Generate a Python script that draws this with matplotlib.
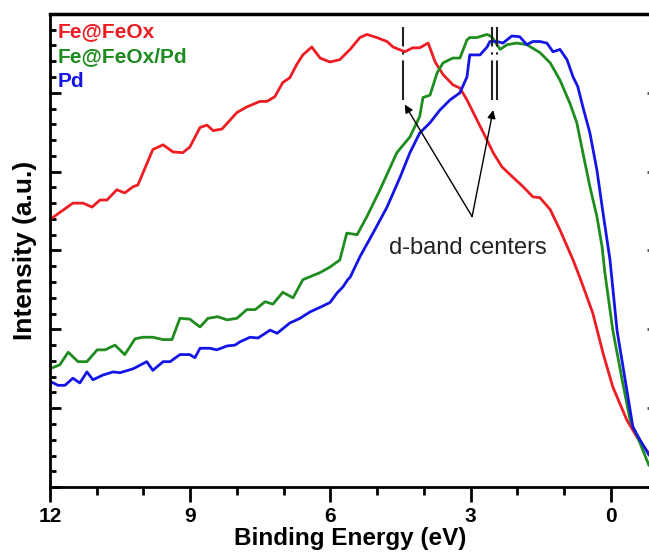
import numpy as np
import matplotlib.pyplot as plt
from matplotlib.ticker import MultipleLocator, NullLocator

plt.rcParams['font.family'] = ['Liberation Sans', 'DejaVu Sans']

# binding energy (eV) and intensity (a.u.)
fe_x = [12.00, 11.96, 11.51, 11.29, 11.10, 10.93, 10.78, 10.57, 10.40, 10.22, 10.12,
        9.80, 9.58, 9.37, 9.16, 9.01, 8.79, 8.64, 8.51, 8.32, 8.00, 7.79, 7.51, 7.36,
        7.19, 7.02, 6.87, 6.72, 6.59, 6.40, 6.22, 6.01, 5.80, 5.58, 5.37, 5.22, 5.01,
        4.79, 4.66, 4.41, 4.24, 4.09, 3.91, 3.76, 3.59, 3.38, 3.23, 3.08, 2.87, 2.65,
        2.52, 2.33, 2.10, 1.88, 1.67, 1.52, 1.30, 1.09, 0.81, 0.66, 0.39, 0.17, -0.04,
        -0.34, -0.56, -0.81]
fe_y = [3.41, 3.41, 3.60, 3.60, 3.55, 3.64, 3.64, 3.77, 3.73, 3.81, 3.83,
        4.28, 4.34, 4.25, 4.24, 4.31, 4.56, 4.59, 4.52, 4.54, 4.75, 4.82, 4.89, 4.89,
        4.95, 5.13, 5.19, 5.36, 5.48, 5.58, 5.44, 5.39, 5.42, 5.55, 5.70, 5.74, 5.70,
        5.65, 5.58, 5.52, 5.57, 5.57, 5.63, 5.39, 5.23, 5.10, 5.06, 4.91, 4.66, 4.40,
        4.24, 4.06, 3.93, 3.81, 3.68, 3.67, 3.52, 3.26, 2.88, 2.65, 2.21, 1.70, 1.27,
        0.85, 0.63, 0.43]

fepd_x = [12.00, 11.96, 11.79, 11.61, 11.40, 11.21, 10.99, 10.82, 10.61, 10.40, 10.18,
          10.01, 9.80, 9.58, 9.39, 9.22, 9.01, 8.79, 8.62, 8.41, 8.21, 8.00, 7.79, 7.61,
          7.40, 7.23, 7.02, 6.80, 6.59, 6.22, 6.01, 5.80, 5.65, 5.43, 5.22, 4.94, 4.58,
          4.30, 4.09, 4.02, 3.87, 3.72, 3.59, 3.38, 3.23, 3.08, 3.02, 2.87, 2.65, 2.55,
          2.37, 2.22, 2.01, 1.80, 1.52, 1.30, 1.09, 0.88, 0.73, 0.60, 0.45, 0.30, 0.19,
          0.13, -0.04, -0.24, -0.41, -0.62, -0.81]
fepd_y = [1.49, 1.51, 1.55, 1.71, 1.59, 1.59, 1.74, 1.74, 1.80, 1.68, 1.88,
          1.90, 1.90, 1.87, 1.87, 2.14, 2.13, 2.03, 2.14, 2.16, 2.12, 2.14, 2.25, 2.25,
          2.35, 2.32, 2.47, 2.40, 2.63, 2.72, 2.79, 2.88, 3.22, 3.20, 3.43, 3.77, 4.24,
          4.44, 4.70, 4.94, 4.97, 5.25, 5.38, 5.44, 5.44, 5.67, 5.70, 5.70, 5.74, 5.71,
          5.55, 5.61, 5.63, 5.61, 5.51, 5.38, 5.16, 4.87, 4.62, 4.24, 3.81, 3.43, 3.05,
          2.72, 1.99, 1.36, 0.85, 0.56, 0.28]

pd_x = [12.00, 11.96, 11.83, 11.68, 11.51, 11.36, 11.21, 11.08, 10.87, 10.65, 10.50,
        10.22, 9.93, 9.80, 9.58, 9.43, 9.22, 9.01, 8.90, 8.79, 8.58, 8.43, 8.21, 8.04,
        7.94, 7.72, 7.55, 7.29, 7.14, 6.87, 6.65, 6.44, 6.22, 6.01, 5.86, 5.73, 5.63,
        5.58, 5.37, 5.09, 4.79, 4.51, 4.30, 4.09, 3.87, 3.66, 3.44, 3.23, 3.08, 3.02,
        2.80, 2.65, 2.59, 2.44, 2.31, 2.12, 1.95, 1.80, 1.67, 1.52, 1.37, 1.24, 1.09,
        0.94, 0.81, 0.71, 0.60, 0.45, 0.30, 0.17, 0.02, -0.13, -0.34, -0.47, -0.62, -0.81]
pd_y = [1.31, 1.33, 1.29, 1.29, 1.38, 1.32, 1.46, 1.36, 1.42, 1.46, 1.45,
        1.50, 1.59, 1.48, 1.59, 1.59, 1.68, 1.68, 1.64, 1.76, 1.76, 1.74, 1.79, 1.80,
        1.84, 1.90, 1.89, 1.99, 1.95, 2.08, 2.14, 2.22, 2.28, 2.34, 2.46, 2.54, 2.63,
        2.66, 2.92, 3.22, 3.55, 3.93, 4.24, 4.49, 4.62, 4.78, 4.91, 5.00, 5.20, 5.48,
        5.48, 5.58, 5.65, 5.65, 5.63, 5.72, 5.71, 5.61, 5.65, 5.65, 5.63, 5.52, 5.55,
        5.42, 5.20, 5.08, 4.82, 4.49, 4.02, 3.48, 2.88, 1.99, 1.23, 0.76, 0.60, 0.41]

# d-band centre markers (eV)
dband_fe = 4.45
dband_fepd = 2.55
dband_pd = 2.44

labels = ['Fe@FeOx', 'Fe@FeOx/Pd', 'Pd']
colors = ['#ee1d23', '#1e8c1e', '#1414e6']

fig = plt.figure(figsize=(6.49, 5.56), dpi=100)
ax = fig.add_axes([0.077, 0.124, 0.926, 0.851])

ax.plot(fe_x, fe_y, color=colors[0], lw=2)
ax.plot(fepd_x, fepd_y, color=colors[1], lw=2)
ax.plot(pd_x, pd_y, color=colors[2], lw=2)

for e in [dband_fe, dband_fepd, dband_pd]:
    ax.plot([e, e], [4.91, 5.84], color='#222222', lw=1.5,
            linestyle=(0, (19, 2.8, 1.1, 2.8)))

# arrows + label
tail = (2.97, 3.43)
for head in [(4.41, 4.85), (2.52, 4.78)]:
    ax.annotate('', xy=head, xytext=tail,
                arrowprops=dict(arrowstyle='-|>', color='black', lw=1.0,
                                mutation_scale=12, shrinkA=0, shrinkB=0))
ax.text(3.06, 3.03, 'd-band centers', fontsize=17, ha='center', va='center',
        color='#222222')

# legend as coloured text
for i, (lab, c) in enumerate(zip(labels, colors)):
    ax.text(0.012, 0.962 - i * 0.052, lab, transform=ax.transAxes, color=c,
            fontsize=15, fontweight='bold', ha='left', va='center')

ax.set_xlim(12, -0.856)
ax.set_ylim(0, 6.0)
ax.xaxis.set_major_locator(MultipleLocator(3))
ax.xaxis.set_minor_locator(MultipleLocator(1))
ax.yaxis.set_major_locator(MultipleLocator(1))
ax.yaxis.set_minor_locator(MultipleLocator(0.2))
ax.set_yticklabels([])
ax.tick_params(axis='x', which='major', direction='out', length=11, width=2,
               labelsize=15, pad=3)
ax.tick_params(axis='x', which='minor', direction='out', length=6, width=2)
ax.tick_params(axis='y', which='major', direction='in', length=8, width=2)
ax.tick_params(axis='y', which='minor', direction='in', length=4, width=2)
for lab in ax.get_xticklabels():
    lab.set_fontweight('bold')

# short inward ticks on the (cropped) right axis
sec = ax.secondary_yaxis('right')
sec.yaxis.set_major_locator(MultipleLocator(1))
sec.yaxis.set_minor_locator(NullLocator())
sec.tick_params(direction='in', length=3, width=2, color='#555555')
sec.set_yticklabels([])
sec.spines['right'].set_linewidth(2)

for s in ['left', 'bottom']:
    ax.spines[s].set_linewidth(2)
ax.spines['top'].set_linewidth(2.5)
ax.spines['right'].set_linewidth(2)

ax.set_xlabel('Binding Energy (eV)', fontsize=17.5, fontweight='bold', labelpad=1)
ax.set_ylabel('Intensity (a.u.)', fontsize=19, fontweight='bold', labelpad=6)

fig.savefig('out.png', dpi=100)
